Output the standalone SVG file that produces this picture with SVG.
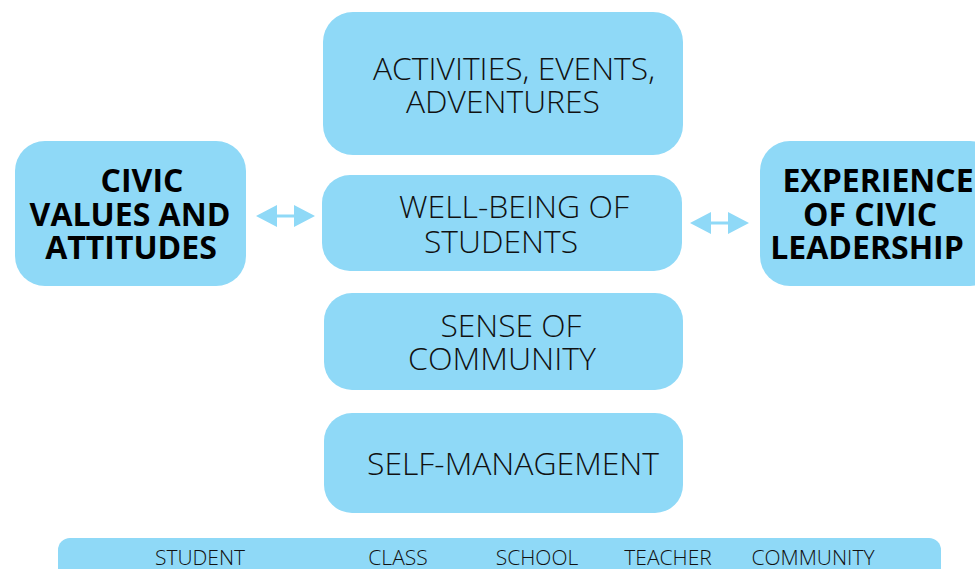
<svg xmlns="http://www.w3.org/2000/svg" width="975" height="569" viewBox="0 0 975 569">
<style>
.box{fill:#8fd9f7}
.t{font-family:"Open Sans","Liberation Sans",sans-serif;font-weight:300;font-size:31.5px;fill:#111;text-anchor:middle}
.b{font-family:"Open Sans","Liberation Sans",sans-serif;font-weight:700;font-size:32px;fill:#000;text-anchor:middle}
.s{font-family:"Open Sans","Liberation Sans",sans-serif;font-weight:300;font-size:21px;fill:#111;text-anchor:middle}
.arr{fill:#8fd9f7}
</style>
<rect width="975" height="569" fill="#fff"/>
<g id="activities">
<rect class="box" x="323" y="12" width="360" height="143" rx="30"/>
<text class="t" x="514" y="80" textLength="282" lengthAdjust="spacingAndGlyphs">ACTIVITIES, EVENTS,</text>
<text class="t" x="503" y="113" textLength="194" lengthAdjust="spacingAndGlyphs">ADVENTURES</text>
</g>
<g id="wellbeing">
<rect class="box" x="322" y="175" width="360" height="96" rx="28"/>
<text class="t" x="514" y="218" textLength="230" lengthAdjust="spacingAndGlyphs">WELL-BEING OF</text>
<text class="t" x="501" y="253" textLength="154" lengthAdjust="spacingAndGlyphs">STUDENTS</text>
</g>
<g id="sense">
<rect class="box" x="324" y="293" width="359" height="97" rx="28"/>
<text class="t" x="511" y="337" textLength="141" lengthAdjust="spacingAndGlyphs">SENSE OF</text>
<text class="t" x="502" y="370" textLength="188" lengthAdjust="spacingAndGlyphs">COMMUNITY</text>
</g>
<g id="selfmanagement">
<rect class="box" x="324" y="413" width="359" height="100" rx="28"/>
<text class="t" x="513" y="475" textLength="292" lengthAdjust="spacingAndGlyphs">SELF-MANAGEMENT</text>
</g>
<g id="civic">
<rect class="box" x="15" y="141" width="231" height="145" rx="30"/>
<text class="b" x="142" y="192">CIVIC</text>
<text class="b" x="130" y="226">VALUES AND</text>
<text class="b" x="131" y="259">ATTITUDES</text>
</g>
<g id="experience">
<rect class="box" x="760" y="141" width="240" height="145" rx="30"/>
<text class="b" x="878" y="192">EXPERIENCE</text>
<text class="b" x="870" y="226">OF CIVIC</text>
<text class="b" x="867" y="259">LEADERSHIP</text>
</g>
<g id="levels">
<rect class="box" x="58" y="538" width="883" height="60" rx="12"/>
<text class="s" x="200" y="565">STUDENT</text>
<text class="s" x="398" y="565">CLASS</text>
<text class="s" x="537" y="565">SCHOOL</text>
<text class="s" x="668" y="565">TEACHER</text>
<text class="s" x="813" y="565">COMMUNITY</text>
</g>
<g id="connectors">
<path class="arr" d="M256 216 L277 205 L277 214.5 L294 214.5 L294 205 L315 216 L294 227 L294 217.5 L277 217.5 L277 227 Z"/>
<path class="arr" d="M690 223 L711 212 L711 221.5 L728 221.5 L728 212 L749 223 L728 234 L728 224.5 L711 224.5 L711 234 Z"/>
</g>
</svg>
